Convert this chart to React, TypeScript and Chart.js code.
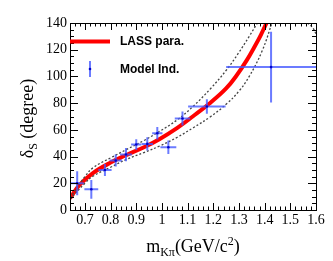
import { useEffect, useRef } from 'react';
import { Chart, registerables } from 'chart.js';
Chart.register(...registerables);

const X_MIN = 0.642;
const X_MAX = 1.6;
const Y_MIN = 0;
const Y_MAX = 140;

const xTicks = [0.7, 0.8, 0.9, 1.0, 1.1, 1.2, 1.3, 1.4, 1.5, 1.6];
const yTicks = [0, 20, 40, 60, 80, 100, 120, 140];

// LASS parametrisation (central curve)
const lassX = [0.642, 0.68, 0.73, 0.8, 0.86, 0.93, 0.99, 1.06, 1.12, 1.19, 1.25, 1.29, 1.33, 1.36, 1.385, 1.412];
const lassY = [8.7, 19, 27.5, 35.5, 41, 47, 53, 61.5, 70, 80.5, 91, 100.5, 112, 122, 131, 142];

// Uncertainty band (dotted)
const upperX = [0.642, 0.7, 0.733, 0.8, 0.863, 0.93, 0.992, 1.06, 1.122, 1.19, 1.252, 1.3, 1.34, 1.378];
const upperY = [9, 25, 31.8, 39, 45.4, 52, 59, 67.5, 77.7, 91, 105, 118, 130, 142];
const lowerX = [0.642, 0.7, 0.733, 0.8, 0.863, 0.93, 0.992, 1.06, 1.122, 1.19, 1.252, 1.3, 1.34, 1.39, 1.432];
const lowerY = [8, 20, 25.5, 32, 38, 43, 48, 54.5, 61.6, 70, 79.5, 89, 100, 119, 142];
const cornerX = [1.566, 1.585, 1.6];
const cornerY = [140, 137, 132];

// Model independent points
const ptX = [0.67, 0.725, 0.778, 0.82, 0.86, 0.9, 0.943, 0.982, 1.025, 1.08, 1.175, 1.425];
const ptY = [20, 15.5, 30, 37, 41.5, 49, 49.5, 57.5, 47, 68.5, 77.5, 107];
const ptXErr = [0.026, 0.027, 0.026, 0.024, 0.023, 0.02, 0.022, 0.02, 0.031, 0.03, 0.073, 0.175];
const ptYErr = [9, 7, 4.5, 4.5, 5, 4, 5, 4.7, 5, 5.3, 5.5, 26.5];

const toXY = (xs: number[], ys: number[]) => xs.map((x, i) => ({ x, y: ys[i] }));

const SERIF = '"Liberation Serif", "DejaVu Serif", serif';
const SANS = '"Liberation Sans", Arial, sans-serif';

const rootPlugin = {
  id: 'rootStyle',
  afterDatasetsDraw(chart: any) {
    const ctx = chart.ctx as CanvasRenderingContext2D;
    const xs = chart.scales.x;
    const ys = chart.scales.y;
    const a = chart.chartArea;
    ctx.save();
    ctx.beginPath();
    ctx.rect(a.left, a.top, a.right - a.left, a.bottom - a.top);
    ctx.clip();
    ctx.strokeStyle = 'rgba(70,90,255,0.8)';
    ctx.lineWidth = 2;
    ptX.forEach((x, i) => {
      const y = ptY[i];
      const px = xs.getPixelForValue(x);
      const py = ys.getPixelForValue(y);
      ctx.beginPath();
      ctx.moveTo(xs.getPixelForValue(x - ptXErr[i]), py);
      ctx.lineTo(xs.getPixelForValue(x + ptXErr[i]), py);
      ctx.moveTo(px, ys.getPixelForValue(y - ptYErr[i]));
      ctx.lineTo(px, ys.getPixelForValue(y + ptYErr[i]));
      ctx.stroke();
    });
    ctx.fillStyle = '#0000cc';
    ptX.forEach((x, i) => {
      ctx.beginPath();
      ctx.arc(xs.getPixelForValue(x), ys.getPixelForValue(ptY[i]), 1.3, 0, Math.PI * 2);
      ctx.fill();
    });
    ctx.restore();
  },
  afterDraw(chart: any) {
    const ctx = chart.ctx as CanvasRenderingContext2D;
    const xs = chart.scales.x;
    const ys = chart.scales.y;
    const a = chart.chartArea;
    ctx.save();
    ctx.strokeStyle = '#000';
    ctx.lineWidth = 1;
    ctx.strokeRect(Math.round(a.left) + 0.5, Math.round(a.top) + 0.5, Math.round(a.right - a.left), Math.round(a.bottom - a.top));
    ctx.beginPath();
    for (let i = 32; i <= 80; i++) {
      const v = i / 50;
      if (v < X_MIN - 1e-9 || v > X_MAX + 1e-9) continue;
      const major = i % 5 === 0;
      const len = major ? 7 : 3.5;
      const px = Math.round(xs.getPixelForValue(v)) + 0.5;
      ctx.moveTo(px, a.bottom);
      ctx.lineTo(px, a.bottom - len);
      ctx.moveTo(px, a.top);
      ctx.lineTo(px, a.top + len);
    }
    for (let i = 0; i <= 28; i++) {
      const v = i * 5;
      const major = i % 4 === 0;
      const len = major ? 8 : 4;
      const py = Math.round(ys.getPixelForValue(v)) + 0.5;
      ctx.moveTo(a.left, py);
      ctx.lineTo(a.left + len, py);
      ctx.moveTo(a.right, py);
      ctx.lineTo(a.right - len, py);
    }
    ctx.stroke();

    // legend
    ctx.strokeStyle = '#ff0000';
    ctx.lineWidth = 4;
    ctx.beginPath();
    ctx.moveTo(a.left, 41.5);
    ctx.lineTo(a.left + 40, 41.5);
    ctx.stroke();
    ctx.strokeStyle = 'rgba(70,90,255,0.8)';
    ctx.lineWidth = 2;
    ctx.beginPath();
    ctx.moveTo(90, 61);
    ctx.lineTo(90, 77);
    ctx.stroke();
    ctx.fillStyle = '#0000cc';
    ctx.beginPath();
    ctx.arc(90, 69, 1.3, 0, Math.PI * 2);
    ctx.fill();
    ctx.fillStyle = '#000';
    ctx.font = `bold 12px ${SANS}`;
    ctx.textAlign = 'left';
    ctx.textBaseline = 'middle';
    ctx.fillText('LASS para.', 120, 42);
    ctx.fillText('Model Ind.', 120, 70);

    // x title: m_{Kπ}(GeV/c^{2})
    const big = `18px ${SERIF}`;
    const small = `12px ${SERIF}`;
    const parts: [string, string, number][] = [
      ['m', big, 0],
      ['Kπ', small, 4],
      ['(GeV/c', big, 0],
      ['2', small, -7],
      [')', big, 0],
    ];
    ctx.textBaseline = 'alphabetic';
    let total = 0;
    parts.forEach(([t, f]) => { ctx.font = f; total += ctx.measureText(t).width; });
    let cx = 193 - total / 2;
    parts.forEach(([t, f, dy]) => {
      ctx.font = f;
      ctx.fillText(t, cx, 252 + dy);
      cx += ctx.measureText(t).width;
    });

    // y title: δ_S (degree)
    ctx.save();
    ctx.translate(33, 118.5);
    ctx.rotate(-Math.PI / 2);
    const yparts: [string, string, number][] = [
      ['δ', big, 0],
      ['S', small, 4],
      [' (degree)', big, 0],
    ];
    let tt = 0;
    yparts.forEach(([t, f]) => { ctx.font = f; tt += ctx.measureText(t).width; });
    let cy = -tt / 2;
    yparts.forEach(([t, f, dy]) => {
      ctx.font = f;
      ctx.fillText(t, cy, dy);
      cy += ctx.measureText(t).width;
    });
    ctx.restore();
    ctx.restore();
  },
};

export default function App() {
  const ref = useRef<HTMLCanvasElement>(null);
  useEffect(() => {
    if (!ref.current) return;
    const dotted = {
      showLine: true,
      borderColor: '#444',
      borderWidth: 1.3,
      borderDash: [2, 2],
      pointRadius: 0,
      fill: false,
      tension: 0.4,
    };
    const chart = new Chart(ref.current, {
      type: 'scatter',
      data: {
        datasets: [
          { ...dotted, data: toXY(upperX, upperY) },
          { ...dotted, data: toXY(lowerX, lowerY) },
          { ...dotted, data: toXY(cornerX, cornerY) },
          {
            showLine: true,
            borderColor: '#ff0000',
            borderWidth: 4,
            pointRadius: 0,
            fill: false,
            tension: 0.4,
            data: toXY(lassX, lassY),
          },
        ],
      } as any,
      options: {
        animation: false,
        responsive: false,
        devicePixelRatio: 1,
        layout: { padding: { left: 0, top: 23, right: 17, bottom: 0 } },
        plugins: { legend: { display: false }, tooltip: { enabled: false } },
        scales: {
          x: {
            type: 'linear',
            min: X_MIN,
            max: X_MAX,
            afterFit: (s: any) => { s.height = 51; },
            afterBuildTicks: (s: any) => { s.ticks = xTicks.map((v) => ({ value: v })); },
            grid: { display: false, drawTicks: false },
            border: { display: false },
            ticks: {
              color: '#000',
              padding: 2,
              maxRotation: 0,
              autoSkip: false,
              font: { family: SERIF, size: 14 },
              callback: (v: any) => String(Number(Number(v).toFixed(1))),
            },
          },
          y: {
            type: 'linear',
            min: Y_MIN,
            max: Y_MAX,
            afterFit: (s: any) => { s.width = 70; },
            afterBuildTicks: (s: any) => { s.ticks = yTicks.map((v) => ({ value: v })); },
            grid: { display: false, drawTicks: false },
            border: { display: false },
            ticks: {
              color: '#000',
              padding: 3,
              autoSkip: false,
              font: { family: SERIF, size: 14 },
            },
          },
        },
      } as any,
      plugins: [rootPlugin],
    });
    return () => chart.destroy();
  }, []);
  return (
    <div style={{ position: 'fixed', left: 0, top: 0, width: 333, height: 261, background: '#fff' }}>
      <canvas ref={ref} width={333} height={261} style={{ width: 333, height: 261, display: 'block' }} />
    </div>
  );
}
